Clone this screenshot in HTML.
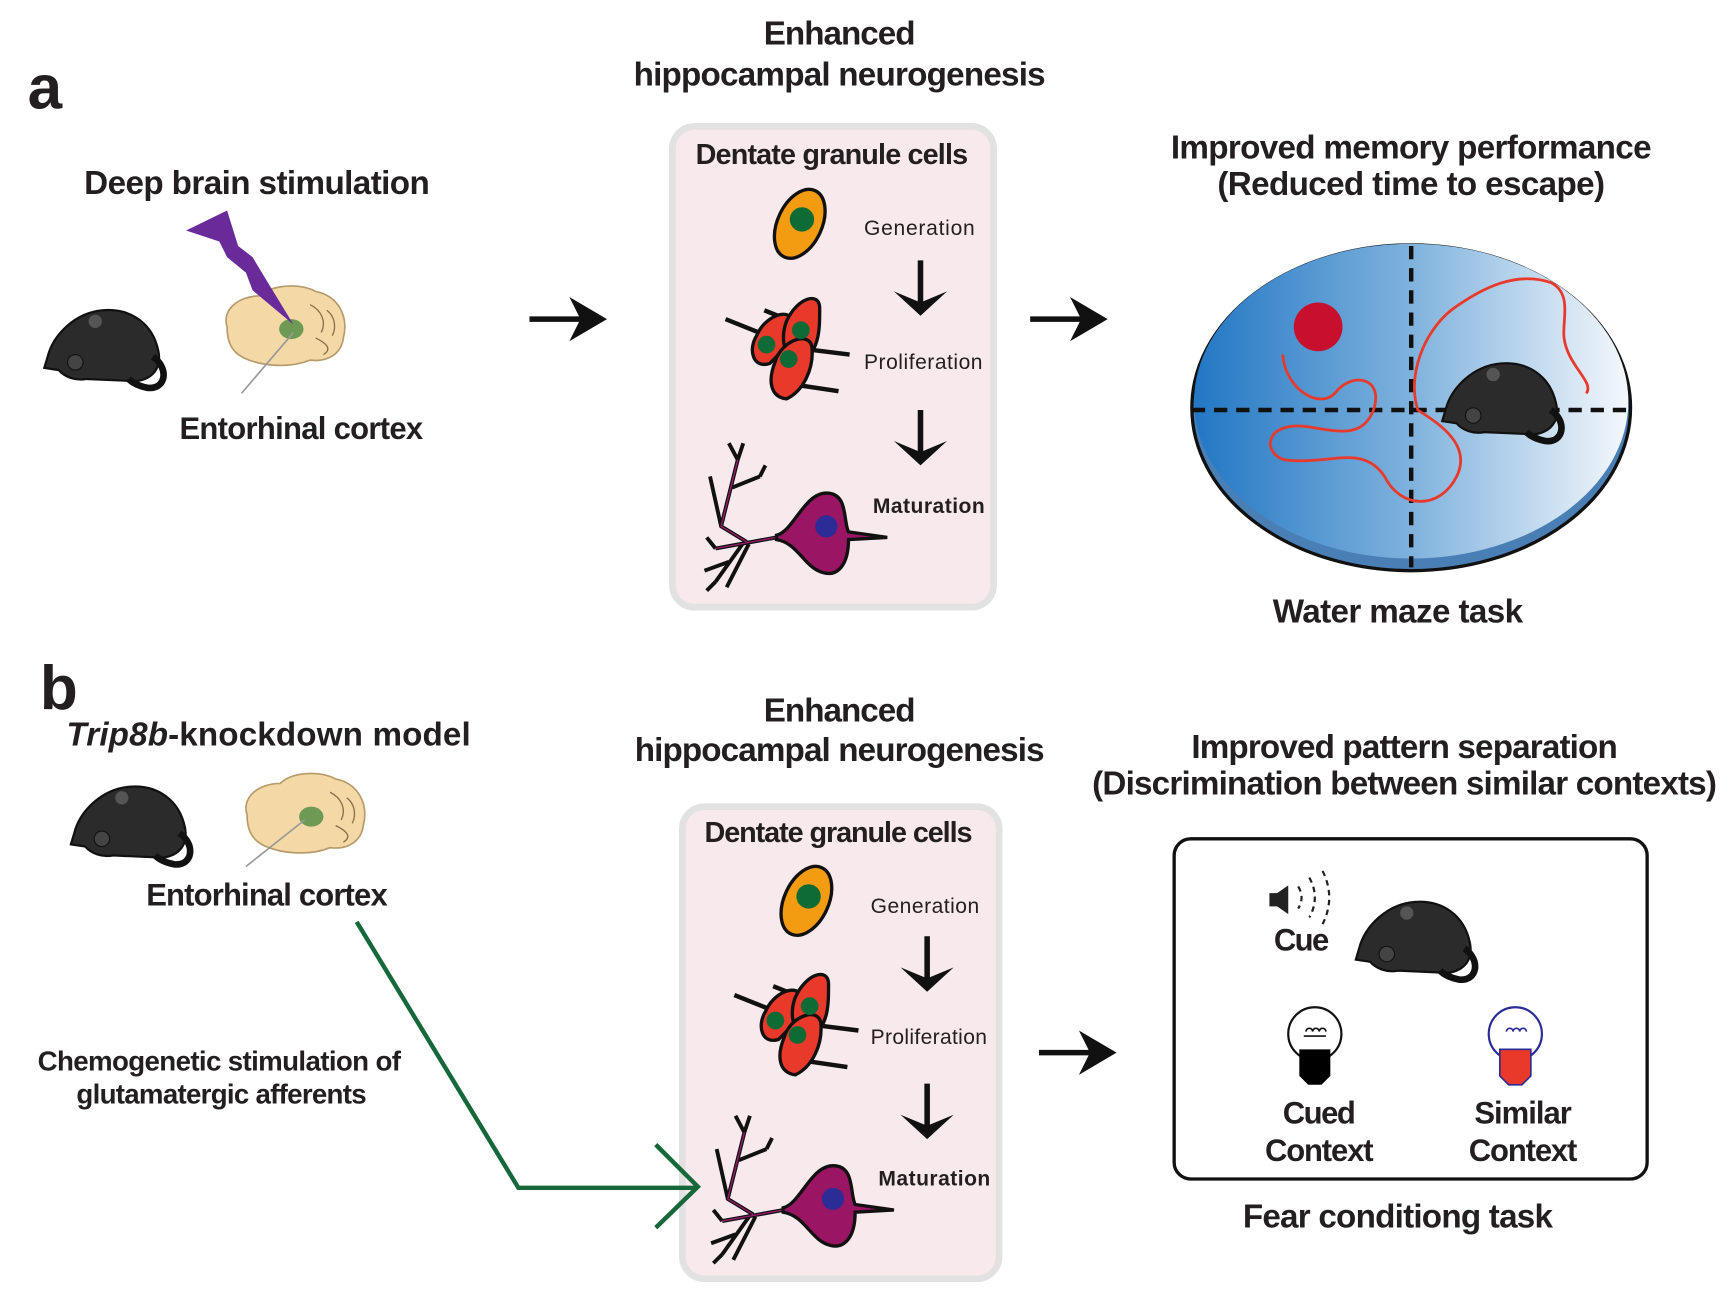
<!DOCTYPE html>
<html><head><meta charset="utf-8"><style>
html,body{margin:0;padding:0;background:#fff;}
svg{display:block;}
text{font-family:"Liberation Sans",sans-serif;fill:#231f20;}
.b{font-weight:bold;}
</style></head><body>
<svg width="1728" height="1292" viewBox="0 0 1560 1166" preserveAspectRatio="none" xmlns="http://www.w3.org/2000/svg">
<defs>
<linearGradient id="wg" x1="0" x2="1" y1="0" y2="0">
<stop offset="0" stop-color="#2277c4"/><stop offset="0.5" stop-color="#7fb2dd"/><stop offset="1" stop-color="#f4f8fc"/>
</linearGradient>
<g id="mouse">
<path d="M5,50 C10,30 30,10 55,8 C80,6 100,20 105,45 C108,60 100,70 85,72 L40,70 C30,72 20,68 15,62 L2,60 Z" fill="#2b2b2b" stroke="#111" stroke-width="2"/>
<path d="M100,50 C115,60 112,80 95,78 C85,76 80,72 78,70" fill="none" stroke="#111" stroke-width="6"/>
<circle cx="30" cy="55" r="7" fill="#444" stroke="#111"/><circle cx="48" cy="18" r="6" fill="#555"/>
</g>
<g id="brain">
<path d="M5,40 C0,25 15,12 35,12 C45,2 70,0 85,8 C105,12 115,30 110,50 C108,65 95,72 80,70 C60,78 35,75 20,68 C8,62 5,52 5,40 Z" fill="#f4d9a6" stroke="#b79a6a" stroke-width="1.5"/>
<path d="M80,20 C90,25 95,35 90,45 M85,50 C95,55 100,60 92,65 M95,25 C102,30 104,40 100,48" fill="none" stroke="#8a6e48" stroke-width="1.2"/>
<ellipse cx="63" cy="42" rx="11" ry="9" fill="#6f9a55"/>
</g>
<g id="cells">
<ellipse cx="0" cy="0" rx="20" ry="33" transform="rotate(25)" fill="#f39c12" stroke="#111" stroke-width="3"/>
<circle cx="2" cy="-4" r="11" fill="#0f6b35"/>
</g>
<g id="prolif">
<path d="M-50,-20 L-20,-8" stroke="#111" stroke-width="4"/>
<path d="M30,8 L62,12 M18,40 L52,45 M-15,-28 L0,-22" stroke="#111" stroke-width="4"/>
<path d="M-22,-5 C-15,-22 5,-30 10,-20 C15,-5 0,10 -10,20 C-25,25 -30,8 -22,-5Z" fill="#e8392a" stroke="#111" stroke-width="3"/>
<path d="M5,-18 C15,-40 35,-45 35,-30 C35,-10 35,5 20,20 C5,20 -2,0 5,-18Z" fill="#e8392a" stroke="#111" stroke-width="3"/>
<path d="M-5,18 C0,0 25,-10 28,5 C30,25 20,45 5,52 C-10,50 -12,35 -5,18Z" fill="#e8392a" stroke="#111" stroke-width="3"/>
<circle cx="-13" cy="3" r="8" fill="#0f6b35"/><circle cx="18" cy="-10" r="8" fill="#0f6b35"/><circle cx="7" cy="16" r="8" fill="#0f6b35"/>
</g>
<g id="neuron">
<path d="M-45,10 L-100,20 M-72,14 L-95,0 L-105,-45 M-95,0 L-80,-60 M-85,-35 L-60,-45 M-75,15 L-100,50 M-88,32 L-110,40 M-70,16 L-90,55 M-100,50 L-108,58 M-80,-60 L-88,-75 M-80,-60 L-75,-75 M-60,-45 L-55,-55 M-100,20 L-108,10" stroke="#111" stroke-width="3.5" fill="none"/>
<path d="M-45,10 L-100,20 M-72,14 L-95,0 L-80,-60" stroke="#9b1b6e" stroke-width="1.2" fill="none"/>
<path d="M-45,8 C-30,5 -20,-30 0,-30 C20,-30 15,-5 20,5 L55,10 L20,12 C20,35 10,45 -2,42 C-20,38 -25,15 -45,12Z" fill="#9b1565" stroke="#111" stroke-width="3"/>
<circle cx="0" cy="0" r="10" fill="#2b2c96"/>
</g>
<g id="darr"><path d="M0,0 V40" stroke="#111" stroke-width="5"/><path d="M-24,28 L0,50 L24,28 L0,38Z" fill="#111"/></g>
<g id="rarr"><path d="M0,0 H50" stroke="#111" stroke-width="5"/><path d="M36,-20 L70,0 L36,20 L46,0Z" fill="#111"/></g>
<g id="bulb"><circle cx="0" cy="0" r="24" fill="#fff" stroke="#111" stroke-width="2"/><path d="M-10,2 h20 M-8,-2 a3,3 0 1 1 6,0 a3,3 0 1 1 6,0 a3,3 0 1 1 6,0" fill="none" stroke="#111" stroke-width="1.5"/><path d="M-14,14 H14 V38 L6,46 H-6 L-14,38Z"/></g>
</defs>

<!-- panel a -->
<text x="25" y="98" font-size="56" font-weight="bold">a</text>
<text class="b" x="758" y="40" font-size="30" text-anchor="middle" textLength="137">Enhanced</text>
<text class="b" x="758" y="77" font-size="30" text-anchor="middle" textLength="372">hippocampal neurogenesis</text>
<text class="b" x="232" y="175" font-size="30" text-anchor="middle" textLength="312">Deep brain stimulation</text>
<use href="#mouse" x="38" y="272"/>
<use href="#brain" x="200" y="255"/>
<path d="M168,208 L205,190 L215,222 L228,232 L240,252 L265,293 L228,262 L222,246 L205,232 L198,218Z" fill="#6a2b9a"/>
<path d="M265,300 L218,355" stroke="#999" stroke-width="1.5"/>
<text class="b" x="272" y="396" font-size="28" text-anchor="middle" textLength="220">Entorhinal cortex</text>
<use href="#rarr" x="478" y="288"/>
<use href="#rarr" x="930" y="288"/>

<rect x="607" y="114" width="290" height="434" rx="20" fill="#f7e9ec" stroke="#e2e2e2" stroke-width="6"/>
<text class="b" x="751" y="148" font-size="26" text-anchor="middle" textLength="246">Dentate granule cells</text>
<use href="#cells" x="722" y="202"/>
<text x="780" y="212" font-size="19" textLength="100">Generation</text>
<use href="#darr" x="831" y="235"/>
<use href="#prolif" x="705" y="308"/>
<text x="780" y="333" font-size="19" textLength="107">Proliferation</text>
<use href="#darr" x="831" y="370"/>
<use href="#neuron" x="746" y="475"/>
<text x="788" y="463" font-size="19" font-weight="bold" textLength="101">Maturation</text>

<text class="b" x="1274" y="143" font-size="30" text-anchor="middle" textLength="434">Improved memory performance</text>
<text class="b" x="1274" y="176" font-size="30" text-anchor="middle" textLength="350">(Reduced time to escape)</text>
<ellipse cx="1274" cy="368" rx="198" ry="147" fill="#4a7fb5" stroke="#111" stroke-width="3"/>
<ellipse cx="1274" cy="362" rx="196" ry="142" fill="url(#wg)"/>
<path d="M1076,370 H1472 M1274,222 V512" stroke="#111" stroke-width="4" stroke-dasharray="12,8"/>
<circle cx="1190" cy="295" r="22" fill="#c8102e"/>
<path d="M1158,320 C1160,350 1190,370 1205,355 C1220,335 1250,340 1240,370 C1230,395 1210,390 1180,385 C1140,380 1140,410 1160,415 C1200,420 1230,400 1250,430 C1265,460 1300,460 1315,430 C1330,400 1295,380 1280,370 C1270,340 1285,300 1310,280 C1340,258 1370,245 1400,255 C1420,265 1410,290 1412,305 C1415,330 1440,345 1432,355" fill="none" stroke="#e8392a" stroke-width="2.5"/>
<use href="#mouse" x="1300" y="320"/>
<text class="b" x="1262" y="562" font-size="30" text-anchor="middle" textLength="226">Water maze task</text>

<!-- panel b -->
<text x="36" y="640" font-size="56" font-weight="bold">b</text>
<text class="b" x="60" y="673" font-size="30" textLength="365"><tspan font-style="italic">Trip8b</tspan>-knockdown model</text>
<use href="#mouse" x="62" y="702"/>
<use href="#brain" x="218" y="695"/>
<path d="M275,740 L222,782" stroke="#999" stroke-width="1.5"/>
<text class="b" x="241" y="817" font-size="28" text-anchor="middle" textLength="218">Entorhinal cortex</text>
<text class="b" x="198" y="966" font-size="25" text-anchor="middle" textLength="328">Chemogenetic stimulation of</text>
<text class="b" x="200" y="996" font-size="25" text-anchor="middle" textLength="262">glutamatergic afferents</text>

<text class="b" x="758" y="651" font-size="30" text-anchor="middle" textLength="137">Enhanced</text>
<text class="b" x="758" y="687" font-size="30" text-anchor="middle" textLength="370">hippocampal neurogenesis</text>
<rect x="616" y="728" width="286" height="426" rx="20" fill="#f7e9ec" stroke="#e2e2e2" stroke-width="6"/>
<path d="M322,832 L468,1072 H630 M592,1033 L630,1071 L592,1108" fill="none" stroke="#16683a" stroke-width="4"/>
<text class="b" x="757" y="760" font-size="26" text-anchor="middle" textLength="242">Dentate granule cells</text>
<use href="#cells" x="728" y="813"/>
<text x="786" y="824" font-size="19" textLength="98">Generation</text>
<use href="#darr" x="837" y="845"/>
<use href="#prolif" x="713" y="918"/>
<text x="786" y="942" font-size="19" textLength="105">Proliferation</text>
<use href="#darr" x="837" y="978"/>
<use href="#neuron" x="752" y="1082"/>
<text x="793" y="1070" font-size="19" font-weight="bold" textLength="101">Maturation</text>
<use href="#rarr" x="938" y="950"/>

<text class="b" x="1268" y="684" font-size="30" text-anchor="middle" textLength="385">Improved pattern separation</text>
<text class="b" x="1268" y="717" font-size="30" text-anchor="middle" textLength="564">(Discrimination between similar contexts)</text>
<rect x="1060" y="757" width="427" height="307" rx="15" fill="#fff" stroke="#111" stroke-width="3"/>
<path d="M1146,806 h7 l10,-7 v26 l-10,-7 h-7Z" fill="#222"/>
<path d="M1172,800 q6,10 0,20 M1182,792 q10,18 0,36 M1194,786 q12,24 0,48" fill="none" stroke="#222" stroke-width="2" stroke-dasharray="5,4"/>
<text class="b" x="1175" y="858" font-size="28" text-anchor="middle" textLength="50">Cue</text>
<use href="#mouse" x="1222" y="806"/>
<use href="#bulb" x="1187" y="933"/>
<g transform="translate(1368,933)"><circle r="24" fill="#fff" stroke="#2b2c96" stroke-width="2"/><path d="M-8,-2 a3,3 0 1 1 6,0 a3,3 0 1 1 6,0 a3,3 0 1 1 6,0" fill="none" stroke="#2b2c96" stroke-width="1.5"/><path d="M-14,14 H14 V38 L6,46 H-6 L-14,38Z" fill="#e8392a" stroke="#2b2c96" stroke-width="1.5"/></g>
<text class="b" x="1191" y="1014" font-size="28" text-anchor="middle" textLength="66">Cued</text>
<text class="b" x="1191" y="1048" font-size="28" text-anchor="middle" textLength="98">Context</text>
<text class="b" x="1375" y="1014" font-size="28" text-anchor="middle" textLength="88">Similar</text>
<text class="b" x="1375" y="1048" font-size="28" text-anchor="middle" textLength="98">Context</text>
<text class="b" x="1262" y="1108" font-size="30" text-anchor="middle" textLength="280">Fear conditiong task</text>
</svg>
</body></html>
